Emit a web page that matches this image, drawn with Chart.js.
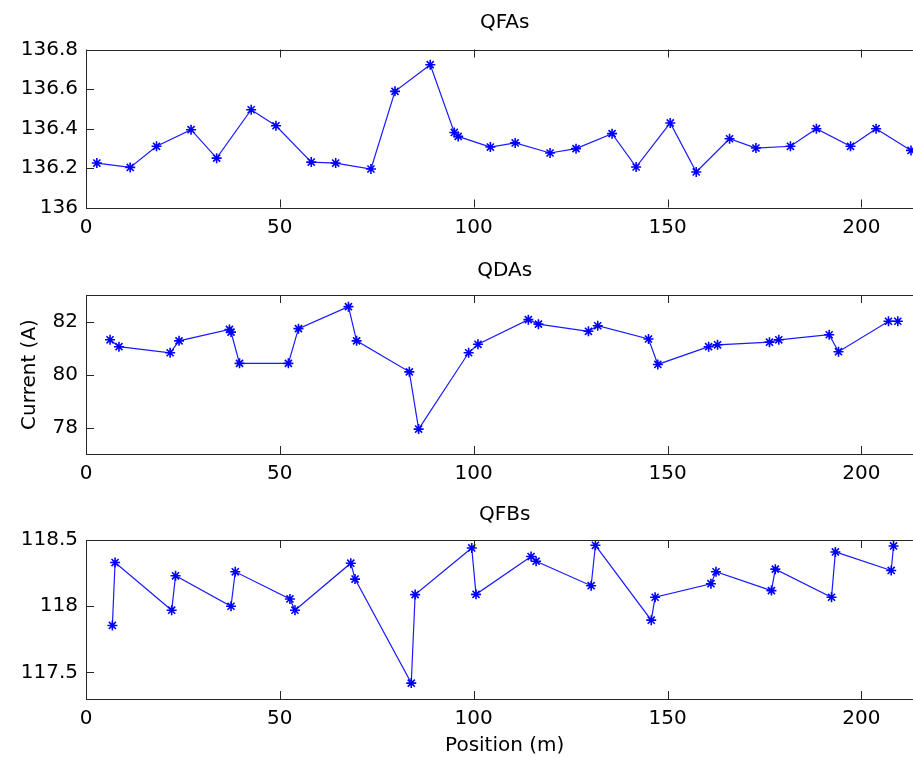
<!DOCTYPE html>
<html>
<head>
<meta charset="utf-8">
<script src="https://cdn.jsdelivr.net/npm/chart.js@4.4.0/dist/chart.umd.min.js"></script>
<style>
  html, body { margin: 0; padding: 0; background: #fff; overflow: hidden; width: 913px; height: 758px; }
  canvas { position: absolute; left: 0; }
</style>
</head>
<body>
<canvas id="qfa" width="930" height="240" style="top:0px"></canvas>
<canvas id="qda" width="930" height="240" style="top:245px"></canvas>
<canvas id="qfb" width="930" height="268" style="top:490px"></canvas>
<script>
// magnet currents along the ring
const xTicks = [0, 50, 100, 150, 200];

const qfaPos = [2.8, 11.4, 18.2, 27.1, 33.7, 42.6, 49.0, 58.1, 64.4, 73.5, 79.7, 88.8, 95.0, 96.0,
  104.3, 110.7, 119.7, 126.4, 135.7, 141.9, 150.7, 157.4, 166.0, 172.8, 181.7, 188.4, 197.2, 203.8, 212.8];
const qfaCurrent = [136.225, 136.203, 136.31, 136.394, 136.25, 136.495, 136.414, 136.23, 136.225, 136.195,
  136.588, 136.723, 136.38, 136.36, 136.306, 136.327, 136.276, 136.298, 136.374, 136.205, 136.428, 136.18,
  136.348, 136.301, 136.31, 136.399, 136.31, 136.399, 136.289];
const qfaTicks = [136, 136.2, 136.4, 136.6, 136.8];

const qdaPos = [6.2, 8.5, 21.7, 24.0, 37.0, 37.4, 39.6, 52.2, 54.8, 67.7, 69.8, 83.4, 85.8, 98.7, 101.1,
  114.1, 116.7, 129.6, 132.0, 145.1, 147.5, 160.6, 162.9, 176.3, 178.7, 191.7, 194.1, 207.0, 209.4];
const qdaCurrent = [81.31, 81.05, 80.82, 81.27, 81.7, 81.6, 80.42, 80.42, 81.73, 82.56, 81.27, 80.1, 77.94,
  80.82, 81.14, 82.07, 81.9, 81.63, 81.84, 81.34, 80.38, 81.05, 81.12, 81.22, 81.31, 81.5, 80.86, 82.01, 82.01];
const qdaTicks = [78, 80, 82];

const qfbPos = [6.8, 7.5, 22.1, 23.1, 37.4, 38.5, 52.6, 53.9, 68.3, 69.4, 83.9, 84.9, 99.5, 100.6,
  114.8, 116.1, 130.3, 131.4, 145.8, 146.8, 161.2, 162.5, 176.8, 177.8, 192.3, 193.3, 207.7, 208.3];
const qfbCurrent = [117.855, 118.33, 117.97, 118.23, 118.0, 118.26, 118.055, 117.97, 118.325, 118.205,
  117.42, 118.088, 118.44, 118.09, 118.375, 118.34, 118.155, 118.46, 117.895, 118.068, 118.17, 118.26,
  118.118, 118.28, 118.068, 118.41, 118.27, 118.455];
const qfbTicks = [117.5, 118, 118.5];

const FONT = "'DejaVu Sans', 'Liberation Sans', sans-serif";
const AXIS_COLOR = "#262626";

// matlab style box with ticks pointing inwards
const boxTicks = {
  id: "boxTicks",
  afterDraw(chart) {
    const { ctx, chartArea: a, scales } = chart;
    const x = scales.x, y = scales.y;
    const len = 8;
    ctx.save();
    ctx.strokeStyle = AXIS_COLOR;
    ctx.lineWidth = 1;
    ctx.strokeRect(Math.round(a.left) + 0.5, Math.round(a.top) + 0.5,
      Math.round(a.right - a.left), Math.round(a.bottom - a.top));
    ctx.beginPath();
    x.ticks.forEach((t) => {
      const px = Math.round(x.getPixelForValue(t.value)) + 0.5;
      ctx.moveTo(px, a.bottom); ctx.lineTo(px, a.bottom - len);
      ctx.moveTo(px, a.top); ctx.lineTo(px, a.top + len);
    });
    y.ticks.forEach((t) => {
      const py = Math.round(y.getPixelForValue(t.value)) + 0.5;
      ctx.moveTo(a.left, py); ctx.lineTo(a.left + len, py);
      ctx.moveTo(a.right, py); ctx.lineTo(a.right - len, py);
    });
    ctx.stroke();
    ctx.restore();
  },
};

function makePanel(id, opts) {
  const pts = opts.pos.map((p, i) => ({ x: p, y: opts.values[i] }));
  return new Chart(document.getElementById(id), {
    type: "line",
    data: {
      datasets: [{
        data: pts,
        borderColor: "#1a1aff",
        borderWidth: 1.2,
        pointStyle: "star",
        pointRadius: 5,
        pointBorderWidth: 1.6,
        pointBorderColor: "#0000ff",
        pointBackgroundColor: "#0000ff",
        tension: 0,
        clip: false,
      }],
    },
    options: {
      responsive: false,
      animation: false,
      layout: { padding: { left: 0, right: 6, top: 0, bottom: 0 } },
      plugins: {
        legend: { display: false },
        tooltip: { enabled: false },
        title: {
          display: true,
          text: opts.title,
          fullSize: false,
          color: "#000",
          font: { family: FONT, size: 20, weight: "normal" },
          padding: opts.titlePad,
        },
      },
      scales: {
        x: {
          type: "linear",
          min: 0,
          max: 216,
          afterBuildTicks: (s) => { s.ticks = xTicks.map((v) => ({ value: v })); },
          afterFit: (s) => { s.height = opts.xHeight; },
          grid: { display: false, drawTicks: false },
          border: { display: false },
          ticks: { color: "#000", padding: 8, maxRotation: 0, font: { family: FONT, size: 20 } },
          title: opts.xTitle
            ? { display: true, text: opts.xTitle, color: "#000", padding: { top: 0, bottom: 0 },
                font: { family: FONT, size: 20 } }
            : { display: false },
        },
        y: {
          type: "linear",
          min: opts.yMin,
          max: opts.yMax,
          afterBuildTicks: (s) => { s.ticks = opts.yTicks.map((v) => ({ value: v })); },
          afterFit: (s) => { s.width = 86; },
          grid: { display: false, drawTicks: false },
          border: { display: false },
          ticks: { color: "#000", padding: 8, font: { family: FONT, size: 20 },
            callback: (v) => String(v) },
          title: opts.yTitle
            ? { display: true, text: opts.yTitle, color: "#000", padding: { top: 18, bottom: 0 },
                font: { family: FONT, size: 20 } }
            : { display: false },
        },
      },
    },
    plugins: [boxTicks],
  });
}

makePanel("qfa", {
  title: "QFAs", titlePad: { top: 11, bottom: 14.5 },
  pos: qfaPos, values: qfaCurrent,
  yMin: 136, yMax: 136.8, yTicks: qfaTicks, xHeight: 32.5,
});
makePanel("qda", {
  title: "QDAs", titlePad: { top: 14, bottom: 12 },
  pos: qdaPos, values: qdaCurrent,
  yMin: 77, yMax: 83, yTicks: qdaTicks, xHeight: 31, yTitle: "Current (A)",
});
makePanel("qfb", {
  title: "QFBs", titlePad: { top: 13, bottom: 13 },
  pos: qfbPos, values: qfbCurrent,
  yMin: 117.3, yMax: 118.5, yTicks: qfbTicks, xHeight: 59, xTitle: "Position (m)",
});
</script>
</body>
</html>
